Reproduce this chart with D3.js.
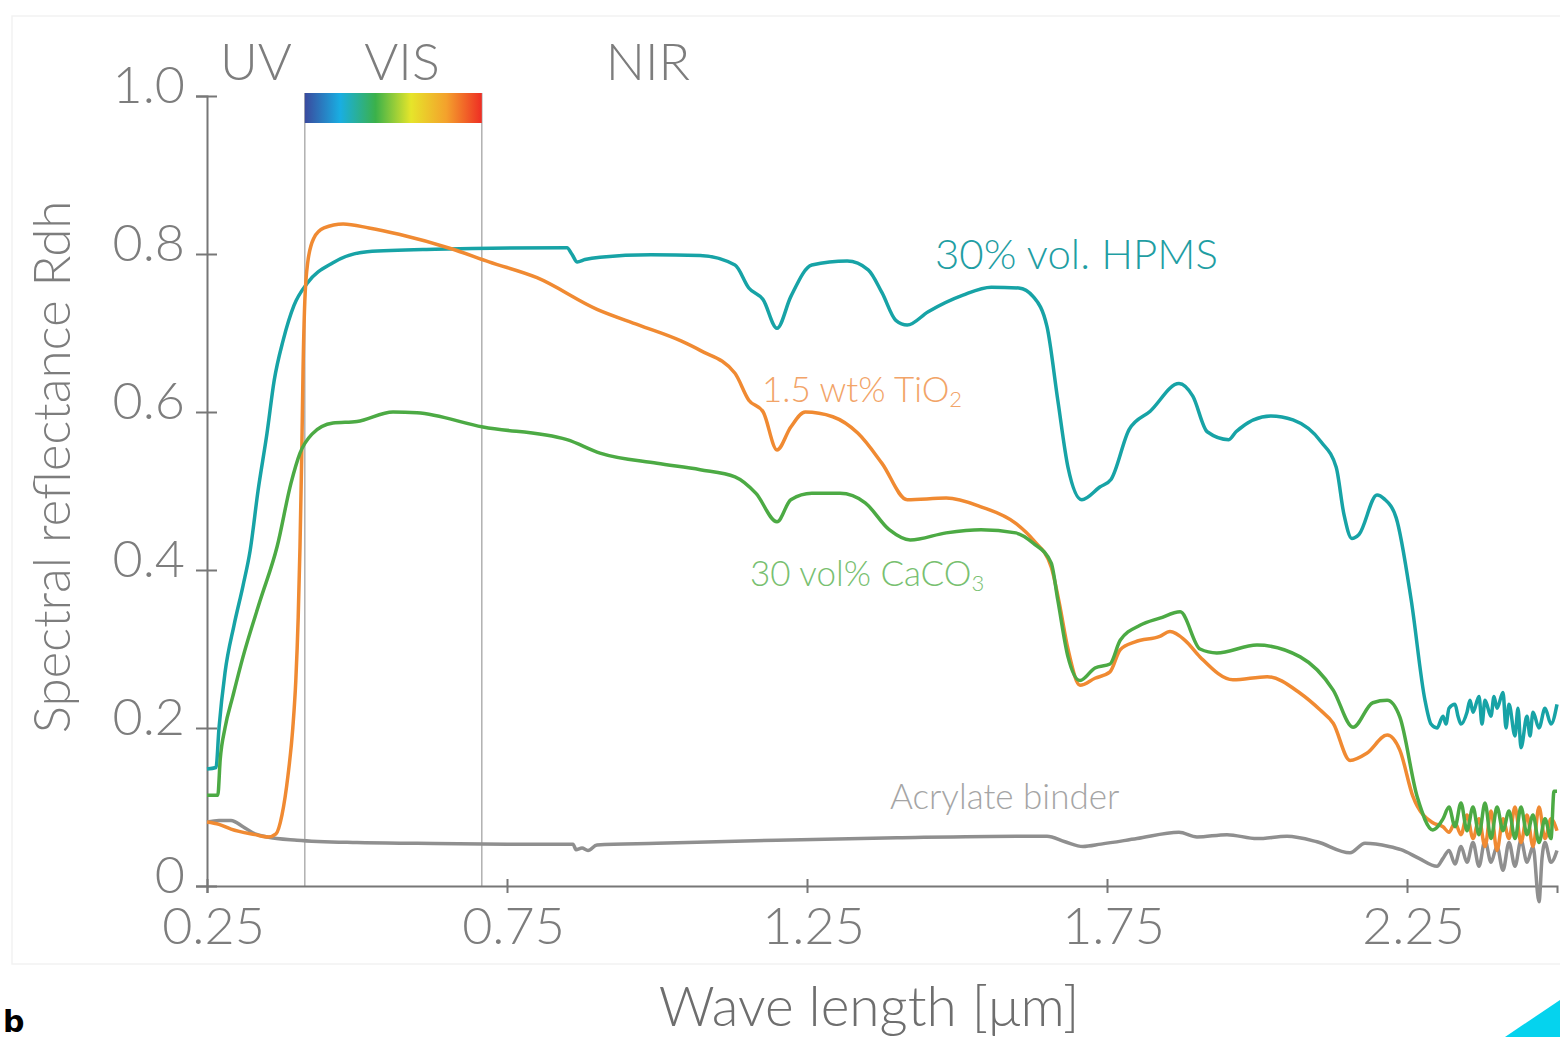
<!DOCTYPE html>
<html>
<head>
<meta charset="utf-8">
<script src="https://cdn.jsdelivr.net/npm/d3@7"></script>
<style>
  body { margin: 0; background: #fff; }
  text { font-family: Lato, "Open Sans", sans-serif; font-weight: 300; }
</style>
</head>
<body>
<svg width="1560" height="1037"></svg>
<script>
const width = 1560;
const height = 1037;

// wavelength [um], reflectance
const hpms = [
  [0.25,0.148],[0.265,0.15],[0.27,0.2],[0.28,0.27],[0.295,0.33],[0.31,0.38],[0.322,0.425],
  [0.335,0.5],[0.35,0.573],[0.362,0.64],[0.377,0.691],[0.395,0.735],[0.417,0.763],[0.46,0.789],
  [0.517,0.803],[0.63,0.806],[0.85,0.808],[0.858,0.8],[0.867,0.79],[0.88,0.793],[0.905,0.796],
  [0.99,0.799],[1.072,0.798],[1.13,0.786],[1.153,0.757],[1.177,0.742],[1.2,0.706],[1.223,0.746],
  [1.258,0.786],[1.317,0.791],[1.352,0.78],[1.375,0.751],[1.398,0.716],[1.417,0.71],[1.452,0.727],
  [1.51,0.748],[1.557,0.758],[1.603,0.757],[1.627,0.746],[1.65,0.708],[1.668,0.615],[1.685,0.53],
  [1.708,0.489],[1.738,0.505],[1.757,0.515],[1.787,0.578],[1.822,0.601],[1.87,0.636],[1.893,0.62],
  [1.917,0.575],[1.953,0.565],[1.965,0.575],[2.023,0.595],[2.06,0.59],[2.107,0.562],[2.132,0.53],
  [2.145,0.47],[2.158,0.44],[2.17,0.445],[2.2,0.495],[2.212,0.49],[2.232,0.466],[2.257,0.362],
  [2.28,0.235],[2.29,0.205],[2.3,0.2],[2.31,0.215],[2.315,0.205],[2.32,0.225],[2.33,0.23],
  [2.335,0.215],[2.34,0.205],[2.35,0.22],[2.355,0.235],[2.36,0.22],[2.37,0.24],[2.375,0.205],
  [2.38,0.235],[2.39,0.215],[2.395,0.24],[2.4,0.225],[2.41,0.245],[2.415,0.2],[2.42,0.23],
  [2.43,0.19],[2.435,0.225],[2.44,0.175],[2.45,0.215],[2.455,0.19],[2.46,0.22],[2.47,0.2],
  [2.48,0.225],[2.49,0.205],[2.5,0.23]
];

const tio2 = [
  [0.25,0.081],[0.27,0.078],[0.29,0.072],[0.33,0.065],[0.352,0.062],[0.365,0.066],[0.375,0.09],
  [0.385,0.14],[0.393,0.2],[0.398,0.26],[0.402,0.34],[0.405,0.43],[0.408,0.55],[0.41,0.65],
  [0.413,0.74],[0.418,0.79],[0.428,0.82],[0.445,0.833],[0.477,0.838],[0.52,0.833],[0.57,0.825],
  [0.66,0.806],[0.72,0.79],[0.8,0.77],[0.9,0.73],[0.97,0.71],[1.04,0.69],[1.072,0.678],
  [1.13,0.649],[1.153,0.615],[1.177,0.6],[1.2,0.552],[1.223,0.581],[1.247,0.6],[1.293,0.594],
  [1.335,0.573],[1.375,0.535],[1.417,0.489],[1.482,0.491],[1.54,0.48],[1.598,0.459],[1.627,0.438],
  [1.657,0.404],[1.67,0.36],[1.685,0.3],[1.705,0.254],[1.73,0.263],[1.755,0.271],[1.772,0.299],
  [1.797,0.309],[1.838,0.316],[1.855,0.322],[1.88,0.311],[1.905,0.29],[1.96,0.261],[2.017,0.265],
  [2.072,0.244],[2.105,0.223],[2.127,0.206],[2.155,0.159],[2.183,0.168],[2.217,0.191],[2.238,0.172],
  [2.26,0.113],[2.293,0.08],[2.31,0.075],[2.32,0.068],[2.33,0.08],[2.34,0.065],[2.35,0.09],
  [2.36,0.06],[2.37,0.085],[2.38,0.05],[2.39,0.095],[2.4,0.045],[2.41,0.085],[2.42,0.06],
  [2.43,0.1],[2.44,0.055],[2.45,0.09],[2.46,0.05],[2.47,0.1],[2.48,0.06],[2.49,0.085],[2.5,0.07]
];

const caco3 = [
  [0.25,0.115],[0.268,0.115],[0.272,0.16],[0.28,0.2],[0.293,0.24],[0.31,0.29],[0.338,0.36],
  [0.367,0.43],[0.39,0.51],[0.405,0.548],[0.425,0.572],[0.46,0.586],[0.5,0.588],[0.56,0.6],
  [0.6,0.599],[0.71,0.581],[0.85,0.565],[0.905,0.548],[1.0,0.535],[1.072,0.527],[1.13,0.518],
  [1.165,0.497],[1.2,0.461],[1.223,0.489],[1.258,0.497],[1.305,0.497],[1.347,0.485],[1.387,0.451],
  [1.422,0.438],[1.482,0.447],[1.54,0.451],[1.598,0.447],[1.627,0.434],[1.657,0.409],[1.668,0.362],
  [1.685,0.29],[1.705,0.26],[1.73,0.276],[1.755,0.281],[1.772,0.311],[1.805,0.33],[1.838,0.339],
  [1.872,0.347],[1.905,0.3],[1.933,0.295],[2.0,0.305],[2.072,0.29],[2.127,0.248],[2.16,0.201],
  [2.193,0.232],[2.217,0.235],[2.238,0.214],[2.267,0.113],[2.293,0.071],[2.31,0.085],[2.32,0.1],
  [2.33,0.075],[2.34,0.105],[2.35,0.07],[2.36,0.1],[2.37,0.065],[2.38,0.105],[2.39,0.06],
  [2.4,0.1],[2.41,0.07],[2.42,0.095],[2.43,0.06],[2.44,0.1],[2.45,0.065],[2.46,0.09],[2.47,0.055],
  [2.48,0.085],[2.49,0.06],[2.495,0.12],[2.5,0.12]
];

const binder = [
  [0.25,0.081],[0.27,0.083],[0.29,0.083],[0.31,0.075],[0.33,0.066],[0.35,0.062],[0.4,0.058],
  [0.5,0.055],[0.6,0.054],[0.75,0.053],[0.86,0.053],[0.865,0.046],[0.875,0.048],[0.885,0.045],
  [0.9,0.052],[1.0,0.054],[1.2,0.058],[1.4,0.061],[1.6,0.063],[1.65,0.063],[1.68,0.056],
  [1.71,0.05],[1.74,0.053],[1.8,0.06],[1.87,0.068],[1.9,0.062],[1.95,0.065],[2.0,0.06],
  [2.05,0.063],[2.1,0.056],[2.155,0.042],[2.18,0.054],[2.22,0.05],[2.24,0.046],[2.27,0.035],
  [2.3,0.025],[2.31,0.035],[2.32,0.045],[2.33,0.028],[2.34,0.05],[2.35,0.03],[2.36,0.055],
  [2.37,0.025],[2.38,0.058],[2.39,0.03],[2.4,0.05],[2.41,0.02],[2.42,0.055],[2.43,0.025],
  [2.44,0.058],[2.45,0.03],[2.46,0.05],[2.47,-0.02],[2.475,0.035],[2.48,0.055],[2.49,0.03],[2.5,0.045]
];

const xTicks = [0.25, 0.75, 1.25, 1.75, 2.25];
const yTicks = [0, 0.2, 0.4, 0.6, 0.8, 1.0];
const visBand = [0.413, 0.708];
const spectrumColors = ['#3a4a9e', '#19aee2', '#3bb14a', '#e6e52a', '#f4a12c', '#ee2e24'];

const svg = d3.select('svg');

const x = d3.scaleLinear().domain([0.25, 2.5]).range([207, 1557]);
const y = d3.scaleLinear().domain([0, 1]).range([886, 96]);

// faint panel frame
svg.append('rect')
    .attr('x', 12).attr('y', 16)
    .attr('width', 1600).attr('height', 948)
    .attr('fill', 'none')
    .attr('stroke', '#f2f2f2')
    .attr('stroke-width', 1.5);

// VIS band edges
svg.selectAll('.band')
    .data(visBand)
    .enter()
    .append('line')
    .attr('x1', d => x(d)).attr('x2', d => x(d))
    .attr('y1', 93).attr('y2', y(0))
    .attr('stroke', '#b0b0b0')
    .attr('stroke-width', 1.5);

// spectrum bar
const grad = svg.append('defs').append('linearGradient').attr('id', 'spec');
spectrumColors.forEach((c, i) => {
    grad.append('stop')
        .attr('offset', (i / (spectrumColors.length - 1) * 100) + '%')
        .attr('stop-color', c);
});
svg.append('rect')
    .attr('x', x(visBand[0])).attr('y', 93)
    .attr('width', x(visBand[1]) - x(visBand[0]))
    .attr('height', 30)
    .attr('fill', 'url(#spec)');

// axes
const yAxis = svg.append('g')
    .attr('transform', `translate(${x(0.25)},0)`)
    .call(d3.axisLeft(y).tickValues(yTicks).tickSize(11).tickPadding(11)
        .tickFormat(d => d === 0 ? '0' : d.toFixed(1)));
yAxis.select('.domain').attr('stroke', '#777').attr('stroke-width', 2);
yAxis.selectAll('.tick line').attr('x2', 10).attr('x1', -11).attr('stroke', '#777').attr('stroke-width', 2);
yAxis.selectAll('.tick text')
    .attr('fill', '#7d7d7d')
    .attr('font-size', 52)
    .attr('dy', '0.12em');

const xAxis = svg.append('g')
    .attr('transform', `translate(0,${y(0)})`)
    .call(d3.axisBottom(x).tickValues(xTicks).tickSize(7).tickPadding(14)
        .tickFormat(d => d.toFixed(2)));
xAxis.select('.domain').attr('stroke', '#777').attr('stroke-width', 2);
xAxis.selectAll('.tick line').attr('y1', -7).attr('stroke', '#777').attr('stroke-width', 2);
xAxis.selectAll('.tick text')
    .attr('fill', '#7d7d7d')
    .attr('font-size', 52)
    .attr('dx', 6);

// curves
const line = d3.line().x(d => x(d[0])).y(d => y(d[1])).curve(d3.curveMonotoneX);
const series = [
    {data: binder, color: '#8f8f8f'},
    {data: hpms, color: '#17a3a6'},
    {data: tio2, color: '#f08a32'},
    {data: caco3, color: '#4caa44'}
];
svg.selectAll('.curve')
    .data(series)
    .enter()
    .append('path')
    .attr('d', d => line(d.data))
    .attr('fill', 'none')
    .attr('stroke', d => d.color)
    .attr('stroke-width', 3.5)
    .attr('stroke-linejoin', 'round');

// region labels
svg.append('text').attr('x', 256).attr('y', 80).attr('text-anchor', 'middle')
    .attr('font-size', 52).attr('fill', '#7d7d7d').text('UV');
svg.append('text').attr('x', 402).attr('y', 80).attr('text-anchor', 'middle')
    .attr('font-size', 52).attr('fill', '#7d7d7d').text('VIS');
svg.append('text').attr('x', 648).attr('y', 80).attr('text-anchor', 'middle')
    .attr('font-size', 52).attr('fill', '#7d7d7d').text('NIR');

// series labels
svg.append('text').attr('x', 935).attr('y', 269)
    .attr('font-size', 42).attr('fill', '#1f9ea3').attr('font-weight', 400)
    .text('30% vol. HPMS');
const tLab = svg.append('text').attr('x', 762).attr('y', 402)
    .attr('font-size', 35).attr('fill', '#f2a468');
tLab.append('tspan').text('1.5 wt% TiO');
tLab.append('tspan').attr('font-size', 22).attr('dy', 5).text('2');
const cLab = svg.append('text').attr('x', 750).attr('y', 586)
    .attr('font-size', 35).attr('fill', '#78c070');
cLab.append('tspan').text('30 vol% CaCO');
cLab.append('tspan').attr('font-size', 22).attr('dy', 5).text('3');
svg.append('text').attr('x', 890).attr('y', 809)
    .attr('font-size', 35).attr('fill', '#a5a5a5')
    .text('Acrylate binder');

// axis titles
svg.append('text')
    .attr('transform', 'translate(70,467) rotate(-90)')
    .attr('text-anchor', 'middle')
    .attr('font-size', 51).attr('fill', '#7d7d7d')
    .text('Spectral reflectance Rdh');
svg.append('text').attr('x', 869).attr('y', 1026).attr('text-anchor', 'middle')
    .attr('font-size', 55).attr('fill', '#6e6e6e')
    .text('Wave length [μm]');

// panel letter and corner shape
svg.append('text').attr('x', 3).attr('y', 1032)
    .attr('font-size', 30).attr('fill', '#000')
    .style('font-family', '"DejaVu Sans", sans-serif')
    .style('font-weight', 700)
    .text('b');
svg.append('path')
    .attr('d', 'M1505,1037 L1560,1000 L1560,1037 Z')
    .attr('fill', '#05d3ee');
</script>
</body>
</html>
